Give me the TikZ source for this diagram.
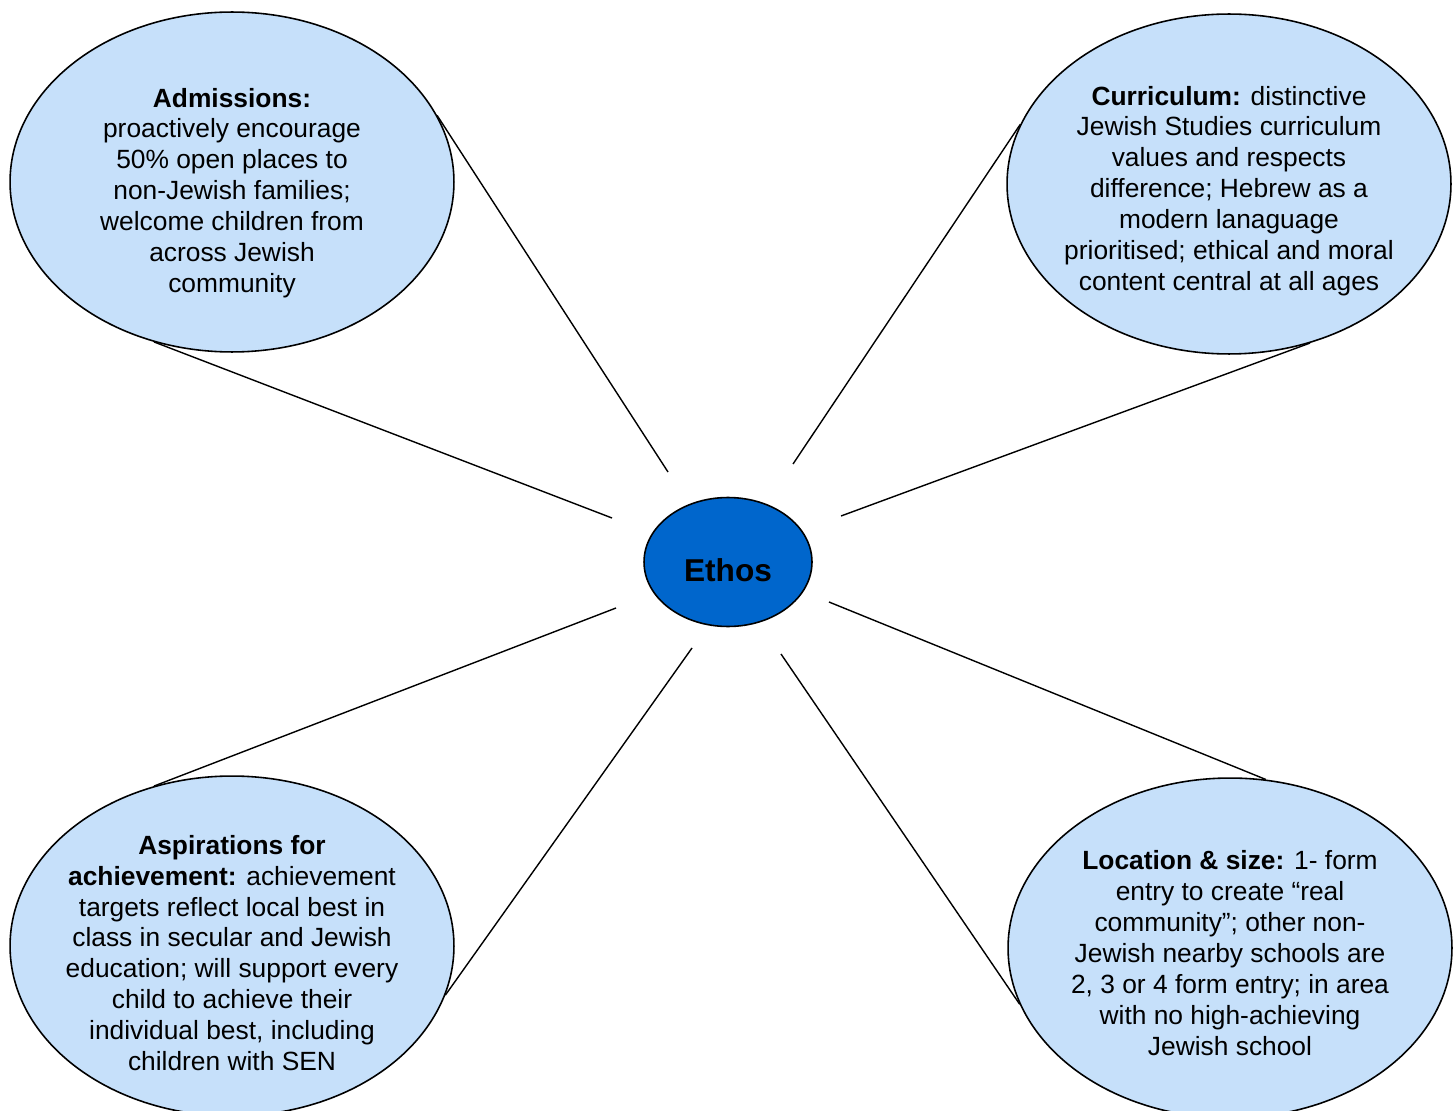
\documentclass[tikz,border=0pt]{standalone}
\usepackage{fontspec}
\setmainfont{Liberation Sans}
\usetikzlibrary{shapes.geometric}

\definecolor{bubble}{RGB}{198,224,250}
\definecolor{ethosblue}{RGB}{0,102,204}

\begin{document}
\begin{tikzpicture}[x=0.02cm, y=-0.02cm,
  topic/.style={ellipse, draw, line width=0.9pt, fill=bubble, inner sep=0pt,
    minimum width=8.88cm, minimum height=6.8cm},
  blurb/.style={align=center, inner sep=0pt, font=\fontsize{15}{17.6}\selectfont},
  hub/.style={ellipse, draw, line width=0.9pt, fill=ethosblue, inner sep=0pt,
    minimum width=3.36cm, minimum height=2.58cm},
  spoke/.style={line width=0.8pt}]
\useasboundingbox (0,0) rectangle (1456,1111);

% the four themes round the centre
\node[topic] (adm) at (232,182) {};
\node[topic] (cur) at (1229,184) {};
\node[topic] (asp) at (232,946) {};
\node[topic] (loc) at (1230,948) {};

\node[blurb] (adm-text) at (232,193) {\textbf{Admissions:}\\
  proactively encourage\\ 50\% open places to\\ non-Jewish families;\\
  welcome children from\\ across Jewish\\ community};
\node[blurb] (cur-text) at (1229,191) {\textbf{Curriculum:} distinctive\\
  Jewish Studies curriculum\\ values and respects\\ difference; Hebrew as a\\
  modern lanaguage\\ prioritised; ethical and moral\\ content central at all ages};
\node[blurb] (asp-text) at (232,953) {\textbf{Aspirations for}\\
  \textbf{achievement:} achievement\\ targets reflect local best in\\
  class in secular and Jewish\\ education; will support every\\
  child to achieve their\\ individual best, including\\ children with SEN};
\node[blurb] (loc-text) at (1230,953) {\textbf{Location \& size:} 1- form\\
  entry to create “real\\ community”; other non-\\ Jewish nearby schools are\\
  2, 3 or 4 form entry; in area\\ with no high-achieving\\ Jewish school};

\node[hub] (ethos) at (728,562) {};
\node[font=\fontsize{18}{20}\selectfont\bfseries] (ethos-text) at (728,570) {Ethos};

% loose ends of the spokes
\coordinate (adm1) at (668,472);
\coordinate (adm2) at (612,518);
\coordinate (cur1) at (793,464);
\coordinate (cur2) at (841,516);
\coordinate (asp1) at (616,608);
\coordinate (asp2) at (692,648);
\coordinate (loc1) at (829,602);
\coordinate (loc2) at (781,654);

\draw[spoke] (adm.18) -- (adm1);
\draw[spoke] (adm.244) -- (adm2);
\draw[spoke] (cur.164) -- (cur1);
\draw[spoke] (cur.297) -- (cur2);
\draw[spoke] (asp.116) -- (asp1);
\draw[spoke] (asp.347) -- (asp2);
\draw[spoke] (loc.78) -- (loc1);
\draw[spoke] (loc.195) -- (loc2);
\end{tikzpicture}
\end{document}
